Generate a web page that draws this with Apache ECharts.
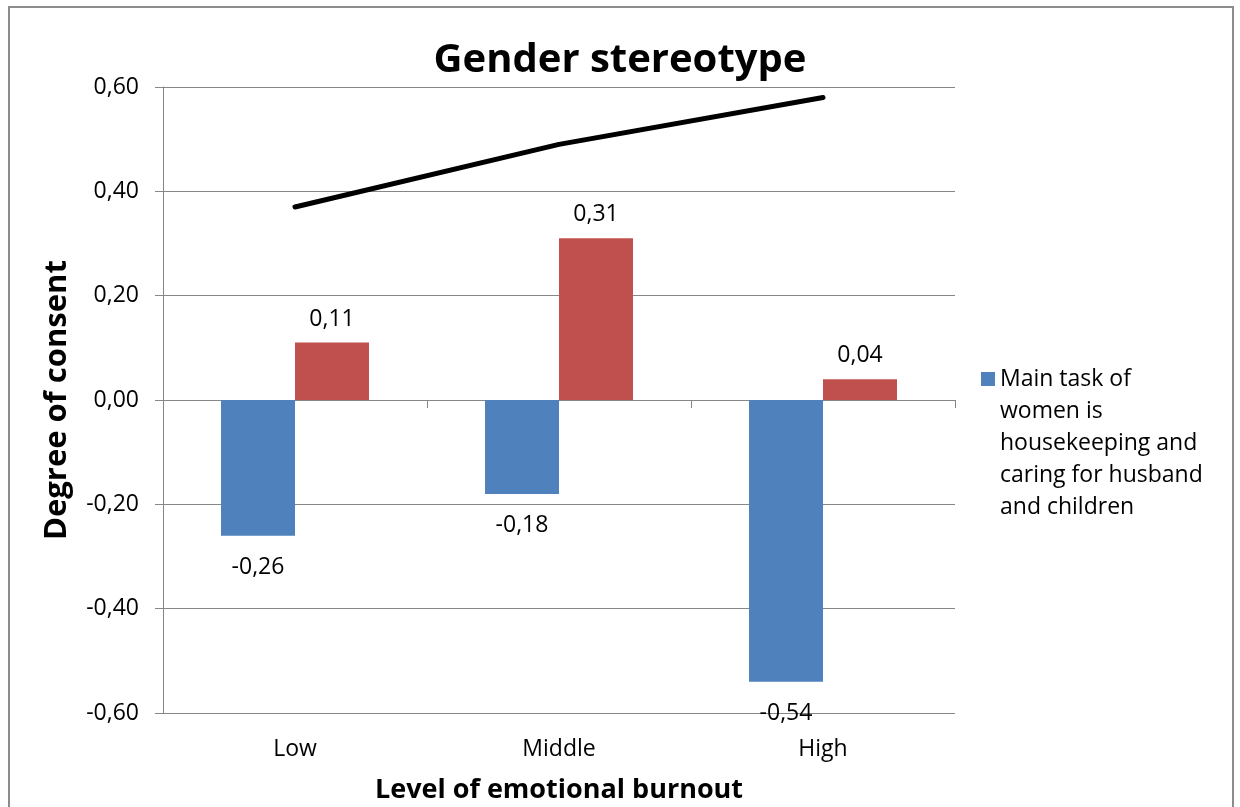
<!DOCTYPE html>
<html>
<head>
<meta charset="utf-8">
<script src="https://cdn.jsdelivr.net/npm/echarts@6/dist/echarts.min.js"></script>
<style>
  html, body { margin: 0; padding: 0; background: #fff; }
  #chart { width: 1240px; height: 807px; }
</style>
</head>
<body>
<div id="chart"></div>
<script>
// Levels of emotional burnout on the category axis
const categories = ['Low', 'Middle', 'High'];
// Bar series: degree of consent per burnout level
const housekeepingName = 'Main task of women is housekeeping and caring for husband and children';
const housekeepingLegendLines = ['Main task of', 'women is', 'housekeeping and', 'caring for husband', 'and children'];
const housekeepingValues = [-0.26, -0.18, -0.54];
const secondValues = [0.11, 0.31, 0.04];
// Line series drawn above the bars
const lineValues = [0.37, 0.49, 0.58];
// Value axis range and step
const yMin = -0.6;
const yMax = 0.6;
const yStep = 0.2;

const FONT = '"Open Sans", Lato, sans-serif';
const GRID_COLOR = '#868686';
const fmt = v => v.toFixed(2).replace('.', ',');

// Legend text is vertically centred on its marker; blank lines in front
// keep the marker level with the first line of the wrapped name.
const legendText = () => {
  const pad = new Array(housekeepingLegendLines.length - 1).fill('');
  return pad.concat(housekeepingLegendLines).join('\n');
};

const chart = echarts.init(document.getElementById('chart'), null, { renderer: 'canvas' });

chart.setOption({
  animation: false,
  backgroundColor: '#ffffff',
  textStyle: { fontFamily: FONT, color: '#000' },
  graphic: [{
    type: 'rect',
    shape: { x: 9, y: 7, width: 1224, height: 820 },
    style: { fill: 'none', stroke: '#8c8c8c', lineWidth: 2 },
    silent: true,
    z: -10
  }],
  title: {
    text: 'Gender stereotype',
    left: 'center',
    top: 36,
    textStyle: { fontFamily: FONT, fontSize: 40, fontWeight: 'bold', color: '#000' }
  },
  legend: {
    data: [housekeepingName],
    orient: 'vertical',
    left: 976,
    top: 230,
    icon: 'rect',
    itemWidth: 14,
    itemHeight: 14,
    selectedMode: false,
    formatter: legendText,
    textStyle: {
      fontFamily: FONT,
      fontSize: 23,
      lineHeight: 32,
      color: '#000'
    }
  },
  grid: { left: 163, right: 285, top: 87, bottom: 94, containLabel: false, outerBoundsMode: 'none' },
  xAxis: [
    {
      type: 'category',
      data: categories,
      position: 'bottom',
      axisLine: { show: false, onZero: false },
      axisTick: { show: false },
      axisLabel: { fontFamily: FONT, fontSize: 23, color: '#000', margin: 25 },
      name: 'Level of emotional burnout',
      nameLocation: 'middle',
      nameGap: 64,
      nameTextStyle: { fontFamily: FONT, fontSize: 27, fontWeight: 'bold', color: '#000' }
    },
    {
      type: 'category',
      data: categories,
      position: 'bottom',
      axisLine: { show: true, onZero: true, lineStyle: { color: GRID_COLOR, width: 1 } },
      axisTick: { show: true, length: 8, lineStyle: { color: GRID_COLOR } },
      axisLabel: { show: false }
    }
  ],
  yAxis: {
    type: 'value',
    min: yMin,
    max: yMax,
    interval: yStep,
    axisLine: { show: true, lineStyle: { color: GRID_COLOR, width: 1 } },
    axisTick: { show: true, length: 8, lineStyle: { color: GRID_COLOR } },
    splitLine: { show: true, lineStyle: { color: GRID_COLOR, width: 1 } },
    axisLabel: { fontFamily: FONT, fontSize: 23, color: '#000', margin: 24, formatter: fmt },
    name: 'Degree of consent',
    nameLocation: 'middle',
    nameRotate: 90,
    nameGap: 90,
    nameTextStyle: { fontFamily: FONT, fontSize: 31, fontWeight: 'bold', color: '#000' }
  },
  series: [
    {
      name: housekeepingName,
      type: 'bar',
      data: housekeepingValues,
      barWidth: 74,
      barGap: '0%',
      itemStyle: { color: '#4F81BD' },
      label: {
        show: true,
        position: 'bottom',
        distance: 20,
        fontFamily: FONT,
        fontSize: 23,
        color: '#000',
        formatter: p => fmt(p.value)
      }
    },
    {
      name: 'Series 2',
      type: 'bar',
      data: secondValues,
      barWidth: 74,
      barGap: '0%',
      itemStyle: { color: '#C0504D' },
      label: {
        show: true,
        position: 'top',
        distance: 12,
        fontFamily: FONT,
        fontSize: 23,
        color: '#000',
        formatter: p => fmt(p.value)
      }
    },
    {
      name: 'Series 3',
      type: 'line',
      data: lineValues,
      symbol: 'none',
      lineStyle: { color: '#000', width: 5, cap: 'round' },
      z: 5
    }
  ]
});
</script>
</body>
</html>
